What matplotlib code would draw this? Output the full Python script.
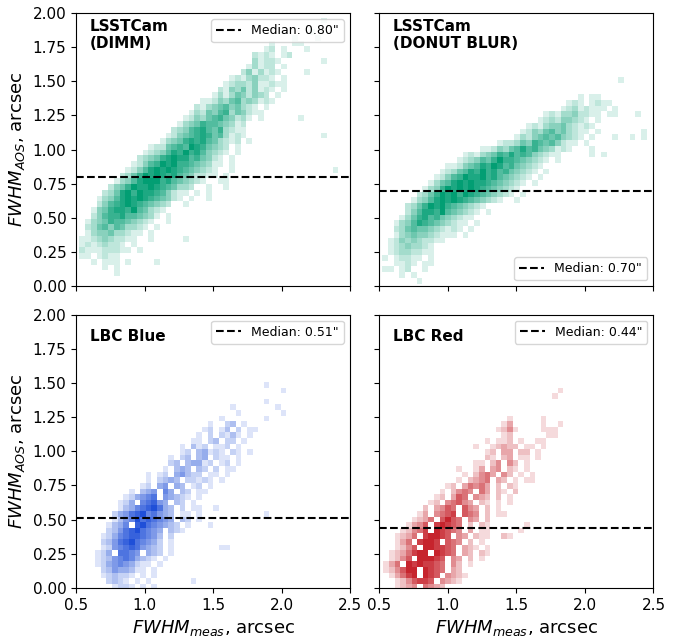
import numpy as np
import matplotlib.pyplot as plt
from matplotlib.colors import LinearSegmentedColormap, to_rgb

# ==== binned counts ====
# each entry: (row index, first column index, levels per cell; "0" = empty cell)
# levels 1..9 are relative counts (9 = darkest cell)

# LSSTCam (DIMM): x edges start 0.524, y edges start 0.033, bin 0.042
dimm_x0, dimm_y0, dimm_bin, dimm_ncol, dimm_nrow = 0.524, 0.033, 0.042, 46, 46
dimm_rows = [
    (45, 42, "1"),
    (43, 40, "1"),
    (42, 37, "1"), (42, 41, "1"),
    (41, 33, "1"), (41, 37, "11"),
    (40, 32, "1201"), (40, 39, "1"),
    (39, 30, "2121"), (39, 35, "12"),
    (38, 30, "31221"), (38, 42, "1"),
    (37, 29, "1312201"),
    (36, 28, "2413121"), (36, 39, "1"),
    (35, 26, "1213422101"),
    (34, 25, "12332411211"),
    (33, 24, "2143524121"), (33, 35, "1"),
    (32, 23, "131354243201"),
    (31, 21, "1124356343121"),
    (30, 20, "2134564532101"),
    (29, 19, "1325467354211"),
    (28, 18, "12435675423101"), (28, 38, "1"),
    (27, 17, "134576654312"),
    (26, 16, "2346786573211"),
    (25, 15, "12456787563121"), (25, 42, "1"),
    (24, 14, "1345787865321201"),
    (23, 12, "1225676987543201"),
    (22, 11, "12346879786432101"),
    (21, 10, "23457898867542101"),
    (20, 9, "124679897765431101"),
    (19, 8, "1246898987654321001"), (19, 44, "1"),
    (18, 7, "2357989878654221101"),
    (17, 6, "13468999786543210011"),
    (16, 5, "245798898765332001001"),
    (15, 4, "2358979887642110101"),
    (14, 3, "13468989876542101001"),
    (13, 3, "2467898765432001"),
    (12, 2, "1457887965321"),
    (11, 2, "24677866543101"),
    (10, 1, "134576654321"), (10, 15, "1"),
    (9, 1, "2356465332101"),
    (8, 1, "134453321101"),
    (7, 0, "1123432211001"), (7, 18, "1"),
    (6, 0, "1212322101"),
    (5, 0, "21112221101"),
    (4, 0, "1101211"),
    (3, 2, "1011101"), (3, 13, "1"),
    (2, 4, "101"),
    (1, 6, "1"),
]

# LSSTCam (DONUT BLUR): x edges start 0.52, y edges start 0.02, bin 0.042
blur_x0, blur_y0, blur_bin, blur_ncol, blur_nrow = 0.52, 0.02, 0.042, 47, 46
blur_rows = [
    (35, 41, "1"),
    (32, 34, "10110"),
    (31, 32, "12101211"),
    (30, 31, "1231211101"),
    (29, 28, "1213342211011"), (29, 44, "1"),
    (28, 27, "12324432101"),
    (27, 25, "121344532121"),
    (26, 24, "12435645321101"), (26, 45, "1"),
    (25, 23, "13245656432101"), (25, 40, "1"), (25, 43, "101"),
    (24, 20, "1223547656421101"),
    (23, 17, "1124356867543121"), (23, 36, "1"),
    (22, 14, "12134576867643211"), (22, 36, "1"), (22, 38, "1"),
    (21, 13, "123465797765432101"),
    (20, 11, "11245687986754321"),
    (19, 10, "1235687978675432101"),
    (18, 9, "1246798897865432101"),
    (17, 8, "1356898988765432101"),
    (16, 7, "13479898987654321"),
    (15, 6, "2357989798765432101"),
    (14, 5, "1346898987654321001"),
    (13, 4, "23579897654321"),
    (12, 4, "246887965432101"),
    (11, 3, "1357867543211"),
    (10, 2, "134687654321101"),
    (9, 2, "23565543212101"),
    (8, 2, "1345443211101"),
    (7, 1, "1243432211"),
    (6, 1, "123433210"),
    (5, 1, "12332211"),
    (4, 0, "101221101"),
    (3, 2, "1121011"),
    (2, 0, "11012001"),
    (1, 3, "101"),
    (0, 6, "1"),
]

# LBC Blue: x edges start 0.64, y edges start -0.01, bin 0.041
blue_x0, blue_y0, blue_bin, blue_ncol, blue_nrow = 0.64, -0.01, 0.041, 35, 38
blue_rows = [
    (36, 30, "1"),
    (35, 33, "1"),
    (33, 30, "1"),
    (32, 24, "1"), (32, 32, "1"),
    (31, 25, "1"), (31, 33, "1"),
    (30, 22, "1"), (30, 30, "1"),
    (29, 20, "1002301"),
    (28, 19, "1201302011"),
    (27, 18, "1020213101"),
    (26, 17, "1102302201"),
    (25, 15, "10312011201"),
    (24, 15, "1203412102101"),
    (23, 13, "1023034021101"),
    (22, 13, "2303441201201"),
    (21, 12, "1034303202011"),
    (20, 9, "101204532201101"),
    (19, 9, "10234302212101"),
    (18, 8, "1204504301201"),
    (17, 6, "10345064032011"),
    (16, 5, "12456705432101"),
    (15, 4, "12406785403201"),
    (14, 4, "134678974302011"), (14, 21, "1"),
    (13, 3, "2457896754301101"), (13, 30, "1"),
    (12, 3, "1356978765403201"),
    (11, 2, "134608976543201"), (11, 20, "1"),
    (10, 2, "23578976540321"),
    (9, 1, "1246788765302"),
    (8, 1, "2357897654201"),
    (7, 1, "1256787543201"), (7, 22, "11"),
    (6, 0, "12407765043201"),
    (5, 0, "1235676432101"),
    (4, 0, "124565421101"),
    (3, 1, "2354431101"),
    (2, 1, "1232210101"),
    (1, 2, "232101010"), (1, 17, "1"),
    (0, 3, "12210101"),
]

# LBC Red: x edges start 0.53, y edges start -0.01, bin 0.041
red_x0, red_y0, red_bin, red_ncol, red_nrow = 0.53, -0.01, 0.041, 33, 37
red_rows = [
    (35, 31, "1"),
    (34, 30, "1"),
    (30, 22, "1"), (30, 28, "1"),
    (29, 21, "13"), (29, 28, "1"), (29, 31, "1"),
    (28, 20, "1241"), (28, 28, "111"),
    (27, 21, "12"), (27, 29, "11"),
    (26, 18, "10112010011"),
    (25, 16, "1001232201101"),
    (24, 18, "1203302201"),
    (23, 18, "2102301101"),
    (22, 16, "1102404201"),
    (21, 13, "1001303402101"),
    (20, 14, "10245304201"), (20, 26, "1"),
    (19, 13, "10234503201011"),
    (18, 11, "1203545302021"),
    (17, 10, "10245405302102"),
    (16, 9, "12036504320201"),
    (15, 8, "1204564302101"), (15, 22, "1"),
    (14, 7, "20346506430201"),
    (13, 6, "1304567065402011"),
    (12, 5, "12350686504302"),
    (11, 4, "134607876502021"), (11, 25, "1"),
    (10, 3, "1245708765403011"), (10, 24, "1"),
    (9, 2, "123507887604302110021"),
    (8, 2, "1350788706540201"),
    (7, 2, "12460887765032101"),
    (6, 1, "123578808765032021"),
    (5, 1, "12460888760430201"),
    (4, 0, "1350878776504201"),
    (3, 0, "124688087650320"),
    (2, 1, "13578087604321"),
    (1, 2, "124677604321"),
    (0, 2, "1234054320"),
]

titles = ["LSSTCam\n(DIMM)", "LSSTCam\n(DONUT BLUR)", "LBC Blue", "LBC Red"]
medians = [0.80, 0.70, 0.51, 0.44]
colors = ["#029e73", "#029e73", "#1f4fd8", "#c00a14"]
legend_locs = ["upper right", "lower right", "upper right", "upper right"]


def build_grid(rows, ncol, nrow):
    grid = np.full((nrow, ncol), np.nan)
    for r, c0, levels in rows:
        for i, ch in enumerate(levels):
            if ch != "0":
                grid[r, c0 + i] = int(ch)
    return np.ma.masked_invalid(grid)


panels = [
    (dimm_rows, dimm_x0, dimm_y0, dimm_bin, dimm_ncol, dimm_nrow),
    (blur_rows, blur_x0, blur_y0, blur_bin, blur_ncol, blur_nrow),
    (blue_rows, blue_x0, blue_y0, blue_bin, blue_ncol, blue_nrow),
    (red_rows, red_x0, red_y0, red_bin, red_ncol, red_nrow),
]

fig, axes = plt.subplots(2, 2, figsize=(6.73, 6.42), dpi=100, sharex=True, sharey=True)
fig.subplots_adjust(left=0.113, right=0.971, top=0.980, bottom=0.084, wspace=0.106, hspace=0.103)

for ax, (rows, x0, y0, b, ncol, nrow), title, med, col, loc in zip(
        axes.flat, panels, titles, medians, colors, legend_locs):
    grid = build_grid(rows, ncol, nrow)
    xedges = x0 + b * np.arange(ncol + 1)
    yedges = y0 + b * np.arange(nrow + 1)
    rgb = to_rgb(col)
    cmap = LinearSegmentedColormap.from_list("c", [(*rgb, 0.0), (*rgb, 1.0)])
    ax.pcolormesh(xedges, yedges, grid, cmap=cmap, vmin=-0.4, vmax=9, linewidth=0)
    ax.axhline(med, color="black", ls="--", lw=1.5, label=f'Median: {med:.2f}"')
    ax.text(0.05, 0.92, title, transform=ax.transAxes, fontsize=11,
            fontweight="bold", va="center", ha="left")
    ax.legend(loc=loc, fontsize=9)

axes[0, 0].set_xlim(0.5, 2.5)
axes[0, 0].set_ylim(0, 2)
axes[0, 0].set_xticks([0.5, 1.0, 1.5, 2.0, 2.5])
axes[0, 0].set_yticks(np.arange(0, 2.01, 0.25))
for ax in axes.flat:
    ax.tick_params(labelsize=11)
for ax in axes[:, 0]:
    ax.set_ylabel(r"$FWHM_{AOS}$, arcsec", fontsize=13)
for ax in axes[1, :]:
    ax.set_xlabel(r"$FWHM_{meas}$, arcsec", fontsize=13)

plt.savefig("out.png")
